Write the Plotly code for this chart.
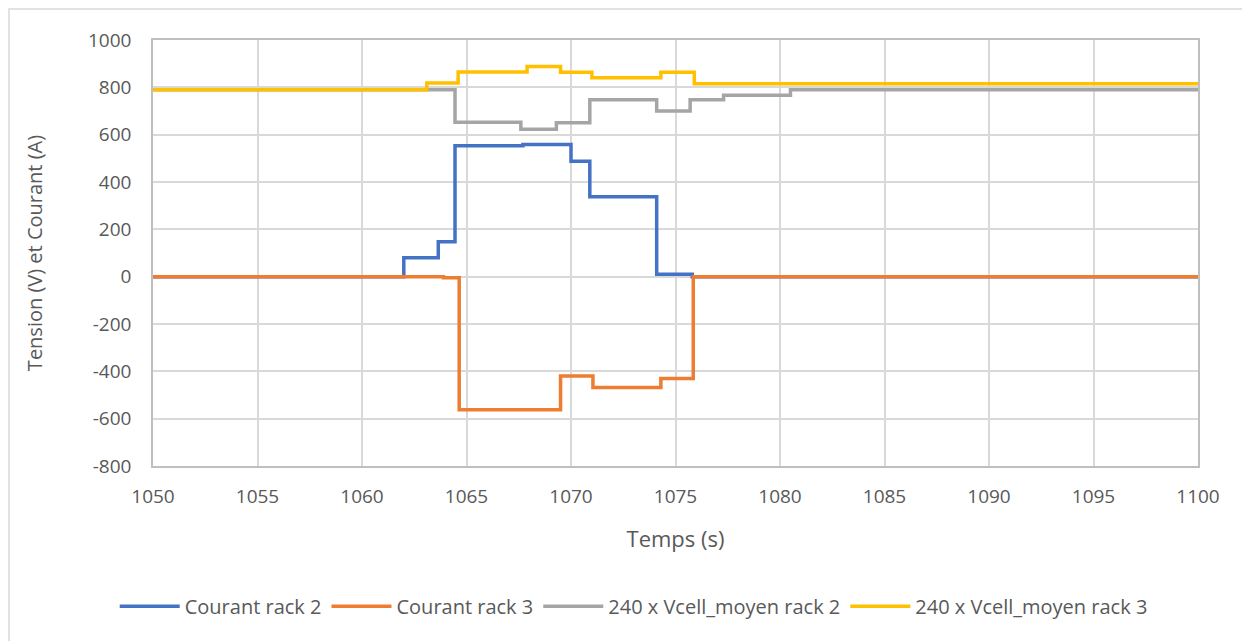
import plotly.graph_objects as go

# Step data (time in s, value)
t_c2 = [1050, 1062.0, 1063.65, 1064.45, 1067.7, 1070.0, 1070.9, 1074.1, 1075.8, 1100]
v_c2 = [0, 80, 148, 553, 558, 488, 338, 10, 0, 0]

t_c3 = [1050, 1063.9, 1064.65, 1069.5, 1071.05, 1074.3, 1075.85, 1100]
v_c3 = [0, -5, -562, -420, -468, -430, 0, 0]

t_v2 = [1050, 1064.45, 1067.6, 1069.3, 1070.9, 1074.1, 1075.7, 1077.3, 1080.5, 1100]
v_v2 = [790, 652, 623, 650, 748, 700, 748, 767, 790, 790]

t_v3 = [1050, 1063.1, 1064.6, 1067.9, 1069.5, 1071.0, 1074.3, 1075.9, 1100]
v_v3 = [790, 818, 865, 888, 864, 840, 864, 815, 815]

names = ["Courant rack 2", "Courant rack 3", "240 x Vcell_moyen rack 2", "240 x Vcell_moyen rack 3"]
colors = ["#4472C4", "#ED7D31", "#A5A5A5", "#FFC000"]

x_ticks = list(range(1050, 1101, 5))
y_ticks = list(range(-800, 1001, 200))
y_ticktext = [str(v) for v in y_ticks]

FONT = "Open Sans"
TXT = "#595959"

fig = go.Figure()
for tx, vy, nm, col in zip([t_c2, t_c3, t_v2, t_v3], [v_c2, v_c3, v_v2, v_v3], names, colors):
    fig.add_trace(go.Scatter(x=tx, y=vy, mode="lines", name=nm, line=dict(color=col, width=3.5, shape="hv")))

fig.update_layout(
    width=1250, height=641,
    margin=dict(l=145, r=60, t=32, b=183),
    paper_bgcolor="white", plot_bgcolor="white",
    font=dict(family=FONT, color=TXT, size=19),
    showlegend=True,
    legend=dict(orientation="h", x=0.46, xanchor="center", y=-0.329, yanchor="middle",
                font=dict(size=20, color=TXT), traceorder="normal", itemwidth=60),
    shapes=[dict(type="rect", xref="paper", yref="paper", x0=-0.1378, x1=1.2, y0=-0.6, y1=1.0728,
                 line=dict(color="#D9D9D9", width=1.5), layer="below")],
)
fig.update_xaxes(range=[1050, 1100], tickvals=x_ticks,
                 showgrid=True, gridcolor="#D9D9D9", gridwidth=1.5,
                 showline=True, linecolor="#BFBFBF", linewidth=1.5, mirror=True,
                 zeroline=False, ticks="", ticklabelstandoff=12,
                 title=dict(text="Temps (s)", font=dict(size=22, color=TXT), standoff=24),
                 tickfont=dict(size=19, color=TXT))
fig.update_yaxes(range=[-800, 1000], tickvals=y_ticks, ticktext=y_ticktext,
                 showgrid=True, gridcolor="#D9D9D9", gridwidth=1.5,
                 showline=True, linecolor="#BFBFBF", linewidth=1.5, mirror=True,
                 zeroline=False, ticks="", ticklabelstandoff=16,
                 title=dict(text="Tension (V) et Courant (A)", font=dict(size=20, color=TXT), standoff=40),
                 tickfont=dict(size=19, color=TXT))

fig.write_html("out.html")
